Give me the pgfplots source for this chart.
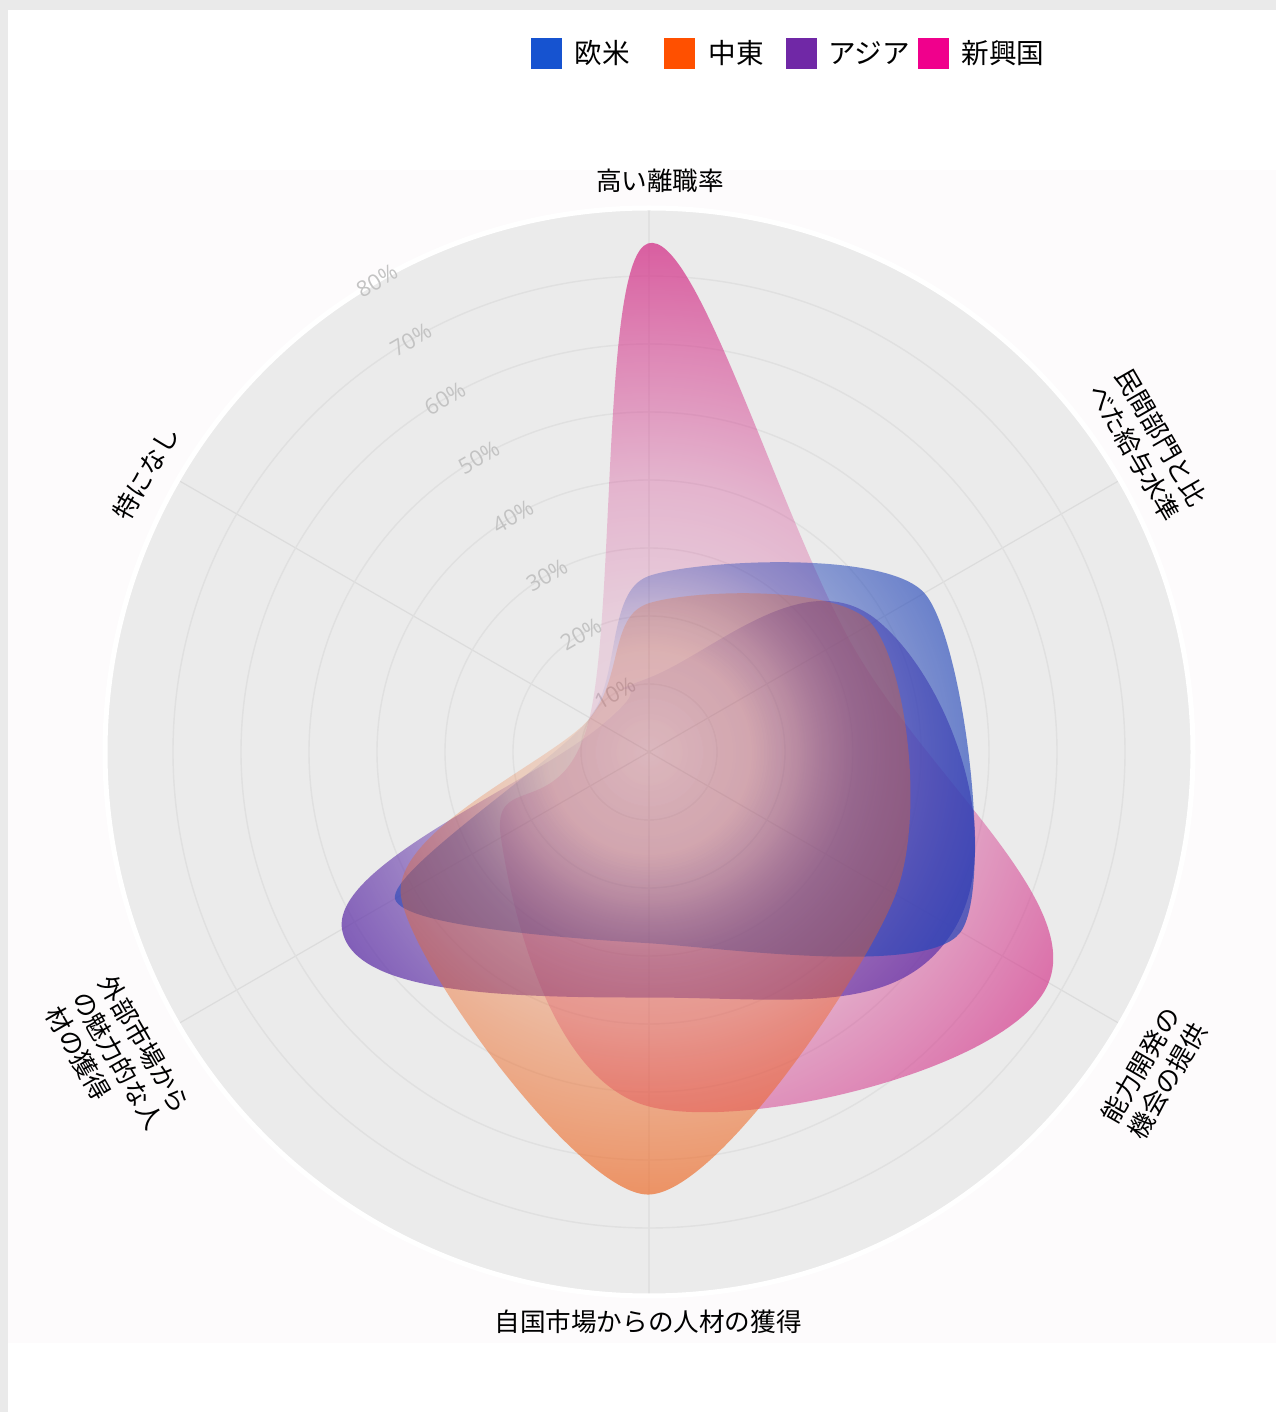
\documentclass[border=0pt]{standalone}
\usepackage{fontspec}
\setmainfont{Noto Sans CJK JP}
\newfontfamily\ticksfont{Open Sans}
\usepackage{pgfplots}
\pgfplotsset{compat=1.18}
\usepgfplotslibrary{polar}
\usetikzlibrary{fadings}

\definecolor{frame}{RGB}{234,234,234}
\definecolor{paper}{RGB}{253,251,252}
\definecolor{disk}{RGB}{235,235,235}
\definecolor{gridc}{RGB}{224,224,224}
\definecolor{spokec}{RGB}{220,220,220}
\definecolor{tickc}{RGB}{195,195,195}
% legend colours
\definecolor{cEU}{RGB}{22,83,208}
\definecolor{cME}{RGB}{255,80,0}
\definecolor{cAS}{RGB}{112,40,166}
\definecolor{cEM}{RGB}{240,0,140}
% blob colours
\definecolor{fEU}{RGB}{35,70,185}
\definecolor{fME}{RGB}{238,100,30}
\definecolor{fAS}{RGB}{100,55,170}
\definecolor{fEM}{RGB}{212,52,138}

% radial opacity ramps centred on the chart origin (white = opaque)
\pgfdeclareradialshading{rampsoft}{\pgfpointorigin}{%
  color(0bp)=(white!12!black); color(6bp)=(white!15!black);
  color(12.5bp)=(white!30!black); color(18.5bp)=(white!55!black);
  color(25bp)=(white!84!black); color(29.5bp)=(white!96!black);
  color(31bp)=(white); color(50bp)=(white)}
\pgfdeclarefading{fadesoft}{\pgfuseshading{rampsoft}}
\pgfdeclareradialshading{ramporange}{\pgfpointorigin}{%
  color(0bp)=(white!15!black); color(6bp)=(white!22!black);
  color(12.5bp)=(white!36!black); color(18.5bp)=(white!58!black);
  color(25bp)=(white!85!black); color(29.5bp)=(white!96!black);
  color(31bp)=(white); color(50bp)=(white)}
\pgfdeclarefading{fadeorange}{\pgfuseshading{ramporange}}
\pgfdeclareradialshading{rampblue}{\pgfpointorigin}{%
  color(0bp)=(white!4!black); color(4.7bp)=(white!8!black);
  color(6.8bp)=(white!20!black); color(9.6bp)=(white!42!black);
  color(16.5bp)=(white!72!black); color(25bp)=(white!92!black);
  color(31bp)=(white); color(50bp)=(white)}
\pgfdeclarefading{fadeblue}{\pgfuseshading{rampblue}}
\pgfdeclareradialshading{ramppurple}{\pgfpointorigin}{%
  color(0bp)=(white!5!black); color(4.7bp)=(white!10!black);
  color(6.8bp)=(white!22!black); color(9.6bp)=(white!45!black);
  color(18.5bp)=(white!88!black); color(25bp)=(white!95!black);
  color(31bp)=(white); color(50bp)=(white)}
\pgfdeclarefading{fadepurple}{\pgfuseshading{ramppurple}}

\tikzset{
  blob/.style={draw=none, smooth cycle},
  cat/.style={inner sep=0pt, align=left, font=\fontsize{12.8}{15.5}\selectfont},
  pct/.style={inner sep=0pt, rotate=30, text=tickc, font=\ticksfont\fontsize{11}{12}\selectfont},
  leg/.style={anchor=west, inner sep=0pt, font=\fontsize{13.8}{16}\selectfont},
}

\begin{document}
\begin{tikzpicture}[x=0.5pt,y=0.5pt]
\fill[frame] (0,0) rectangle (1276,1412);
\fill[white] (8,0) rectangle (1276,1402);
\fill[paper] (8,69) rectangle (1276,1242);

\begin{polaraxis}[
  at={(324.5pt,330pt)}, anchor=origin,
  scale only axis, width=544pt, height=544pt,
  ymin=0, ymax=80,
  xtick={30,90,150,210,270,330}, xticklabels={},
  ytick={10,20,...,80}, yticklabels={},
  grid=major,
  x grid style={draw=spokec, line width=0.6pt},
  y grid style={draw=gridc, line width=0.7pt},
  x axis line style={draw=white, line width=2.5pt},
  y axis line style={draw=none},
  axis background/.style={fill=disk},
  major tick length=0pt,
  clip=false,
]
% radial scale
\node[pct] at (axis cs:120,10) {10\%};
\node[pct] at (axis cs:120,20) {20\%};
\node[pct] at (axis cs:120,30) {30\%};
\node[pct] at (axis cs:120,40) {40\%};
\node[pct] at (axis cs:120,50) {50\%};
\node[pct] at (axis cs:120,60) {60\%};
\node[pct] at (axis cs:120,70) {70\%};
\node[pct] at (axis cs:120,80) {80\%};

% angles: 90 高い離職率, 30 民間部門, 330 能力開発, 270 自国市場, 210 外部市場, 150 特になし
% 新興国
\addplot[blob, tension=0.65, fill=fEM, path fading=fadesoft] coordinates
  {(90,75) (30,34) (330,68) (270,52) (210,25) (150,10)}
  (axis cs:0,80) (axis cs:90,80) (axis cs:180,80) (axis cs:270,80);
% アジア
\addplot[blob, tension=0.85, fill=fAS, path fading=fadepurple] coordinates
  {(90,11) (30,39) (330,52) (270,36) (210,52) (150,8)}
  (axis cs:0,80) (axis cs:90,80) (axis cs:180,80) (axis cs:270,80);
% 欧米
\addplot[blob, tension=0.45, fill=fEU, path fading=fadeblue] coordinates
  {(90,26) (30,47) (330,53) (270,28) (210,43) (150,10)}
  (axis cs:0,80) (axis cs:90,80) (axis cs:180,80) (axis cs:270,80);
% 中東
\addplot[blob, tension=0.5, fill=fME, path fading=fadeorange] coordinates
  {(90,22) (30,38) (330,42) (270,65) (210,42) (150,10)}
  (axis cs:0,80) (axis cs:90,80) (axis cs:180,80) (axis cs:270,80);
\end{polaraxis}

% category labels
\node[cat] at (660,1231) {高い離職率};
\node[cat, rotate=-60] at (1148,967) {民間部門と比\\べた給与水準};
\node[cat, rotate=60] at (1154,339) {能力開発の\\機会の提供};
\node[cat] at (648,90) {自国市場からの人材の獲得};
\node[cat, rotate=-60] at (118,352) {外部市場から\\の魅力的な人\\材の獲得};
\node[cat, rotate=60] at (146,939) {特になし};

% legend
\fill[cEU] (531,1343) rectangle (562,1374);
\node[leg] at (574,1359) {欧米};
\fill[cME] (664,1343) rectangle (695,1374);
\node[leg] at (708,1359) {中東};
\fill[cAS] (786,1343) rectangle (817,1374);
\node[leg] at (828,1359) {アジア};
\fill[cEM] (918,1343) rectangle (949,1374);
\node[leg] at (961,1359) {新興国};
\end{tikzpicture}
\end{document}
